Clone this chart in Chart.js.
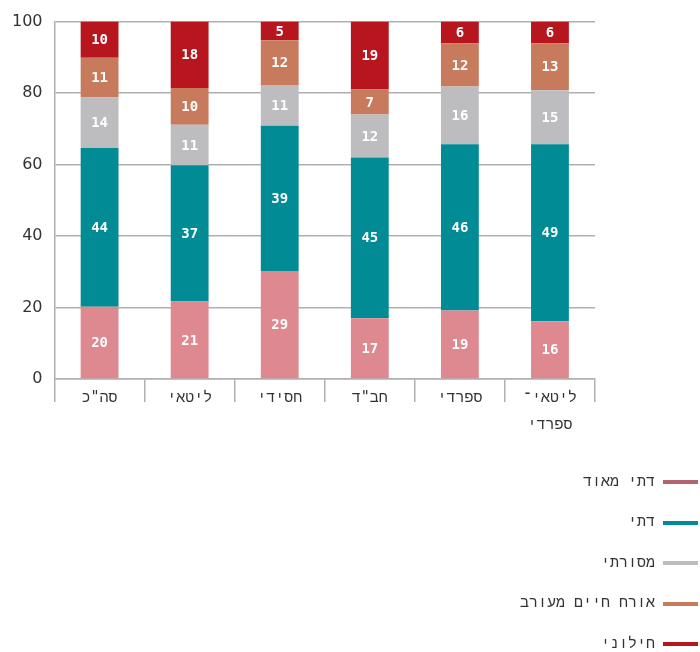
<!DOCTYPE html>
<html>
<head>
<meta charset="utf-8">
<script src="https://cdn.jsdelivr.net/npm/chart.js@4/dist/chart.umd.min.js"></script>
<style>
html,body{margin:0;padding:0;background:#fff;}
#wrap{position:relative;width:700px;height:652px;}
</style>
</head>
<body>
<div id="wrap"><canvas id="c" width="700" height="652"></canvas></div>
<script>
// Categories (x axis)
const categories = ['סה"כ', 'ליטאי', 'חסידי', 'חב"ד', 'ספרדי', ['ליטאי־', 'ספרדי']];
// Series values (as printed on the bars; bars are stacked to 100%)
const veryReligious = [20, 21, 29, 17, 19, 16];
const religious     = [44, 37, 39, 45, 46, 49];
const traditional   = [14, 11, 11, 12, 16, 15];
const mixed         = [11, 10, 12, 7, 12, 13];
const secular       = [10, 18, 5, 19, 6, 6];
const seriesNames = ['דתי מאוד', 'דתי', 'מסורתי', 'אורח חיים מעורב', 'חילוני'];
const yTicks = [0, 20, 40, 60, 80, 100];

const colors = ['#de8890', '#008b95', '#bdbdbf', '#c77b5c', '#b8161f'];
const legendColors = ['#b4646e', '#008b95', '#bdbdbf', '#c77b5c', '#b8161f'];

const raw = [veryReligious, religious, traditional, mixed, secular];
const totals = categories.map((_, i) => raw.reduce((s, arr) => s + arr[i], 0));

const datasets = raw.map((arr, k) => ({
  label: seriesNames[k],
  data: arr.map((v, i) => v / totals[i] * 100),
  rawValues: arr,
  backgroundColor: colors[k],
  borderWidth: 0,
  barPercentage: 0.42,
  categoryPercentage: 1.0
}));

const MONO = '"DejaVu Sans Mono", "Liberation Mono", monospace';

const barLabels = {
  id: 'barLabels',
  afterDatasetsDraw(chart) {
    const ctx = chart.ctx;
    ctx.save();
    ctx.font = 'bold 14px ' + MONO;
    ctx.fillStyle = '#ffffff';
    ctx.textAlign = 'center';
    ctx.textBaseline = 'middle';
    chart.data.datasets.forEach((ds, k) => {
      const meta = chart.getDatasetMeta(k);
      meta.data.forEach((el, i) => {
        const p = el.getProps(['x', 'y', 'base'], true);
        ctx.fillText(String(ds.rawValues[i]), p.x, (p.y + p.base) / 2 + 1);
      });
    });
    ctx.restore();
  }
};

const customLegend = {
  id: 'customLegend',
  afterDraw(chart) {
    const ctx = chart.ctx;
    ctx.save();
    ctx.direction = 'rtl';
    ctx.font = '15px ' + MONO;
    ctx.textAlign = 'right';
    ctx.textBaseline = 'middle';
    chart.data.datasets.forEach((ds, k) => {
      const y = 482 + k * 40.5;
      ctx.fillStyle = '#333333';
      ctx.fillText(ds.label, 655, y);
      ctx.fillStyle = legendColors[k];
      ctx.fillRect(663, Math.round(y) - 2, 35, 4);
    });
    ctx.restore();
  }
};

new Chart(document.getElementById('c'), {
  type: 'bar',
  data: { labels: categories, datasets: datasets },
  options: {
    responsive: false,
    animation: false,
    layout: { padding: { top: 12, right: 105, bottom: 213, left: 0 } },
    plugins: { legend: { display: false }, tooltip: { enabled: false } },
    scales: {
      x: {
        stacked: true,
        offset: true,
        afterFit(scale) { scale.height = 60; },
        grid: {
          offset: true,
          drawOnChartArea: false,
          drawTicks: true,
          tickLength: 23,
          color: '#b0b0b0',
          lineWidth: 1.5
        },
        border: { display: true, color: '#b0b0b0', width: 1.5 },
        ticks: {
          autoSkip: false,
          maxRotation: 0,
          padding: -17,
          color: '#333333',
          font: { family: MONO, size: 15, lineHeight: 1.8 }
        }
      },
      y: {
        stacked: true,
        min: 0,
        max: 100,
        afterBuildTicks(scale) { scale.ticks = yTicks.map(v => ({ value: v })); },
        grid: { color: '#b0b0b0', lineWidth: 1.5, drawTicks: false },
        border: { display: true, color: '#b0b0b0', width: 1.5 },
        ticks: {
          padding: 12,
          color: '#333333',
          font: { family: '"DejaVu Sans", sans-serif', size: 16 }
        }
      }
    }
  },
  plugins: [barLabels, customLegend]
});
</script>
</body>
</html>
